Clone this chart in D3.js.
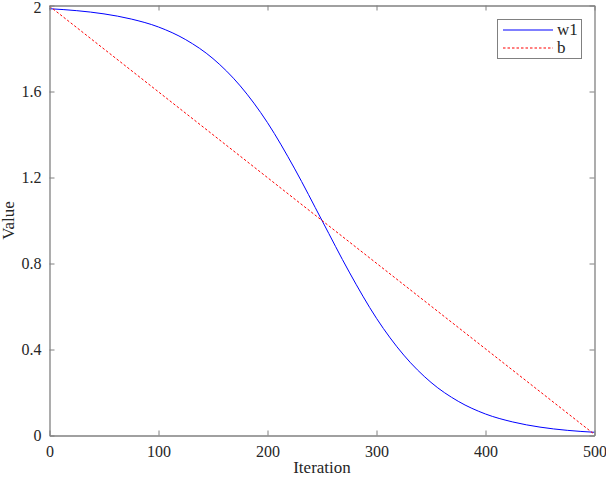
<!DOCTYPE html>
<html>
<head>
<meta charset="utf-8">
<script src="https://cdn.jsdelivr.net/npm/d3@7"></script>
<style>
  body { margin: 0; background: #fff; }
  text { font-family: "Liberation Serif", "Times New Roman", serif; fill: #262626; }
</style>
</head>
<body>
<script>
// Size of the svg
var w = 606;
var h = 481;

var iterations = [0, 25, 50, 75, 100, 125, 150, 175, 200, 225, 250, 275, 300, 325, 350, 375, 400, 425, 450, 475, 500];

// w1 series (sigmoid-like drop)
var w1Values = [1.985, 1.976, 1.961, 1.937, 1.900, 1.841, 1.753, 1.626, 1.455, 1.240, 1.000,
                0.760, 0.545, 0.374, 0.247, 0.159, 0.100, 0.063, 0.039, 0.024, 0.015];

// b series (straight line)
var bIterations = [0, 250, 500];
var bValues = [1.997, 1.0, 0.005];

// Tick labels
var xTicks = [0, 100, 200, 300, 400, 500];
var yTicks = [0, 0.4, 0.8, 1.2, 1.6, 2];

// Legend entries
var seriesNames = ["w1", "b"];

// Plot box
var plotLeft = 49.5, plotRight = 594.5, plotTop = 5.5, plotBottom = 435.5;

var x = d3.scaleLinear().domain([0, 500]).range([plotLeft, plotRight]);
var y = d3.scaleLinear().domain([0, 2]).range([plotBottom, plotTop]);

var svg = d3.select("body")
        .append("svg")
        .attr("width", w)
        .attr("height", h);

var axisColor = "#808080";
var redDash = "2.5,2";

// Lines first, frame on top
var line = d3.line()
        .x(function(d) { return x(d[0]); })
        .y(function(d) { return y(d[1]); })
        .curve(d3.curveMonotoneX);

var straight = d3.line()
        .x(function(d) { return x(d[0]); })
        .y(function(d) { return y(d[1]); });

var w1Data = iterations.map(function(t, i) { return [t, w1Values[i]]; });
var bData = bIterations.map(function(t, i) { return [t, bValues[i]]; });

svg.append("path")
    .attr("d", line(w1Data))
    .attr("fill", "none")
    .attr("stroke", "#0000ff")
    .attr("stroke-width", 1);

svg.append("path")
    .attr("d", straight(bData))
    .attr("fill", "none")
    .attr("stroke", "#ff0000")
    .attr("stroke-width", 1)
    .attr("stroke-dasharray", redDash);

// Axes (ticks pointing inward, box all around)
var xAxis = svg.append("g")
        .attr("transform", "translate(0," + plotBottom + ")")
        .call(d3.axisBottom(x).tickValues(xTicks).tickSize(-5).tickSizeOuter(0).tickPadding(10).tickFormat(d3.format("d")));

var xAxisTop = svg.append("g")
        .attr("transform", "translate(0," + plotTop + ")")
        .call(d3.axisTop(x).tickValues(xTicks).tickSize(-5).tickSizeOuter(0).tickFormat(""));

var yAxis = svg.append("g")
        .attr("transform", "translate(" + plotLeft + ",0)")
        .call(d3.axisLeft(y).tickValues(yTicks).tickSize(-5).tickSizeOuter(0).tickPadding(8).tickFormat(function(d) { return String(d); }));

var yAxisRight = svg.append("g")
        .attr("transform", "translate(" + plotRight + ",0)")
        .call(d3.axisRight(y).tickValues(yTicks).tickSize(-5).tickSizeOuter(0).tickFormat(""));

[xAxis, xAxisTop, yAxis, yAxisRight].forEach(function(g) {
    g.select(".domain").attr("stroke", axisColor).attr("stroke-width", 1.3);
    g.selectAll(".tick line").attr("stroke", axisColor);
    g.selectAll(".tick text")
        .style("font-family", "'Liberation Serif', 'Times New Roman', serif")
        .style("font-size", "16px")
        .attr("fill", "#262626");
});

// nudge the top "2" label so it is not clipped
yAxis.selectAll(".tick text").filter(function(d) { return d === 2; }).attr("dy", "0.45em");

// Axis titles
svg.append("text")
    .attr("x", (plotLeft + plotRight) / 2)
    .attr("y", 473)
    .attr("text-anchor", "middle")
    .style("font-size", "17px")
    .text("Iteration");

svg.append("text")
    .attr("transform", "translate(14," + (plotTop + plotBottom) / 2 + ") rotate(-90)")
    .attr("text-anchor", "middle")
    .style("font-size", "17px")
    .text("Value");

// Legend
var legend = svg.append("g");

legend.append("rect")
    .attr("x", 497.5)
    .attr("y", 19.5)
    .attr("width", 84)
    .attr("height", 39)
    .attr("fill", "#fff")
    .attr("stroke", axisColor)
    .attr("stroke-width", 1);

var legendColors = ["#0000ff", "#ff0000"];
var legendDash = [null, redDash];

seriesNames.forEach(function(name, i) {
    var ly = 30 + i * 18;
    legend.append("line")
        .attr("x1", 503)
        .attr("x2", 553)
        .attr("y1", ly)
        .attr("y2", ly)
        .style("stroke", legendColors[i])
        .style("stroke-width", 1.2)
        .style("stroke-dasharray", legendDash[i]);
    legend.append("text")
        .attr("x", 557)
        .attr("y", ly + 5)
        .style("font-size", "17px")
        .text(name);
});
</script>
</body>
</html>
